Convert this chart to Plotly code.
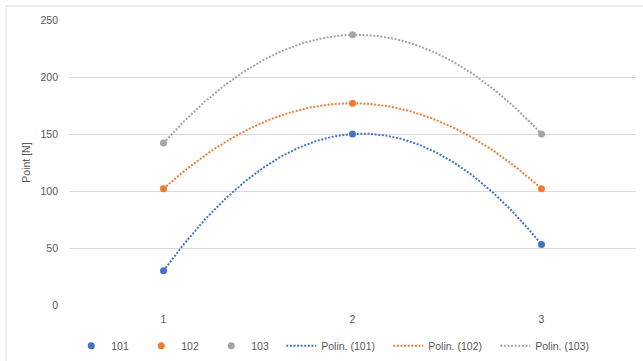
import numpy as np
import plotly.graph_objects as go

# Measurements per specimen at the three test points
x_points = [1, 2, 3]
series_names = ["101", "102", "103"]
values_101 = [30, 150, 53]
values_102 = [102, 177, 102]
values_103 = [142, 237, 150]
y_ticks = [0, 50, 100, 150, 200, 250]

colors = ["#4472C4", "#ED7D31", "#A5A5A5"]
all_values = [values_101, values_102, values_103]

FONT = "Liberation Sans, Arial, sans-serif"
TEXT_COLOR = "#595959"

fig = go.Figure()

# Second-order polynomial trendlines fitted to each series
x_fit = np.linspace(min(x_points), max(x_points), 200)
for i, (name, vals) in enumerate(zip(series_names, all_values)):
    coeffs = np.polyfit(x_points, vals, 2)
    fig.add_trace(go.Scatter(
        x=x_fit, y=np.polyval(coeffs, x_fit),
        mode="lines",
        name=f"Polin. ({name})",
        line=dict(color=colors[i], width=2, dash="2px,1.6px"),
        legendrank=4 + i,
        legendwidth=62,
        hoverinfo="skip",
    ))

# Measured points drawn on top of the trendlines
for i, (name, vals) in enumerate(zip(series_names, all_values)):
    fig.add_trace(go.Scatter(
        x=x_points, y=vals,
        mode="markers",
        name=name,
        marker=dict(color=colors[i], size=7),
        legendrank=1 + i,
        legendwidth=25,
    ))

L, R, T, B = 69, 7, 20, 56
W, H = 643, 361
pw, ph = W - L - R, H - T - B

# Light chart-area frame
fig.add_shape(
    type="rect", xref="paper", yref="paper",
    x0=(6 - L) / pw, x1=(W + 10 - L) / pw,
    y0=-(H + 10 - (H - B)) / ph, y1=(H - B - 6) / ph,
    line=dict(color="#D9D9D9", width=1), fillcolor="rgba(0,0,0,0)",
    layer="below",
)

fig.update_layout(
    width=W, height=H,
    margin=dict(l=L, r=R, t=T, b=B, autoexpand=False),
    paper_bgcolor="white", plot_bgcolor="white",
    font=dict(family=FONT, size=10, color=TEXT_COLOR),
    showlegend=True,
    legend=dict(
        orientation="h", x=0.004, xanchor="left", y=-0.092, yanchor="top",
        font=dict(family=FONT, size=10.5, color=TEXT_COLOR),
        bgcolor="rgba(0,0,0,0)", traceorder="normal",
    ),
    xaxis=dict(
        range=[0.5, 3.5], tickmode="array", tickvals=x_points,
        ticktext=[str(v) for v in x_points],
        showgrid=False, zeroline=False, showline=False, ticks="",
        ticklabelstandoff=6,
        tickfont=dict(family=FONT, size=10.5, color=TEXT_COLOR),
    ),
    yaxis=dict(
        range=[0, 250], tickmode="array", tickvals=y_ticks,
        showgrid=True, gridcolor="#D9D9D9", gridwidth=1,
        zeroline=False, showline=False, ticks="",
        ticklabelstandoff=10,
        tickfont=dict(family=FONT, size=10.5, color=TEXT_COLOR),
        title=dict(text="Point [N]", standoff=7,
                   font=dict(family=FONT, size=10.5, color=TEXT_COLOR)),
        automargin=False,
    ),
)

fig.write_html("out.html")
